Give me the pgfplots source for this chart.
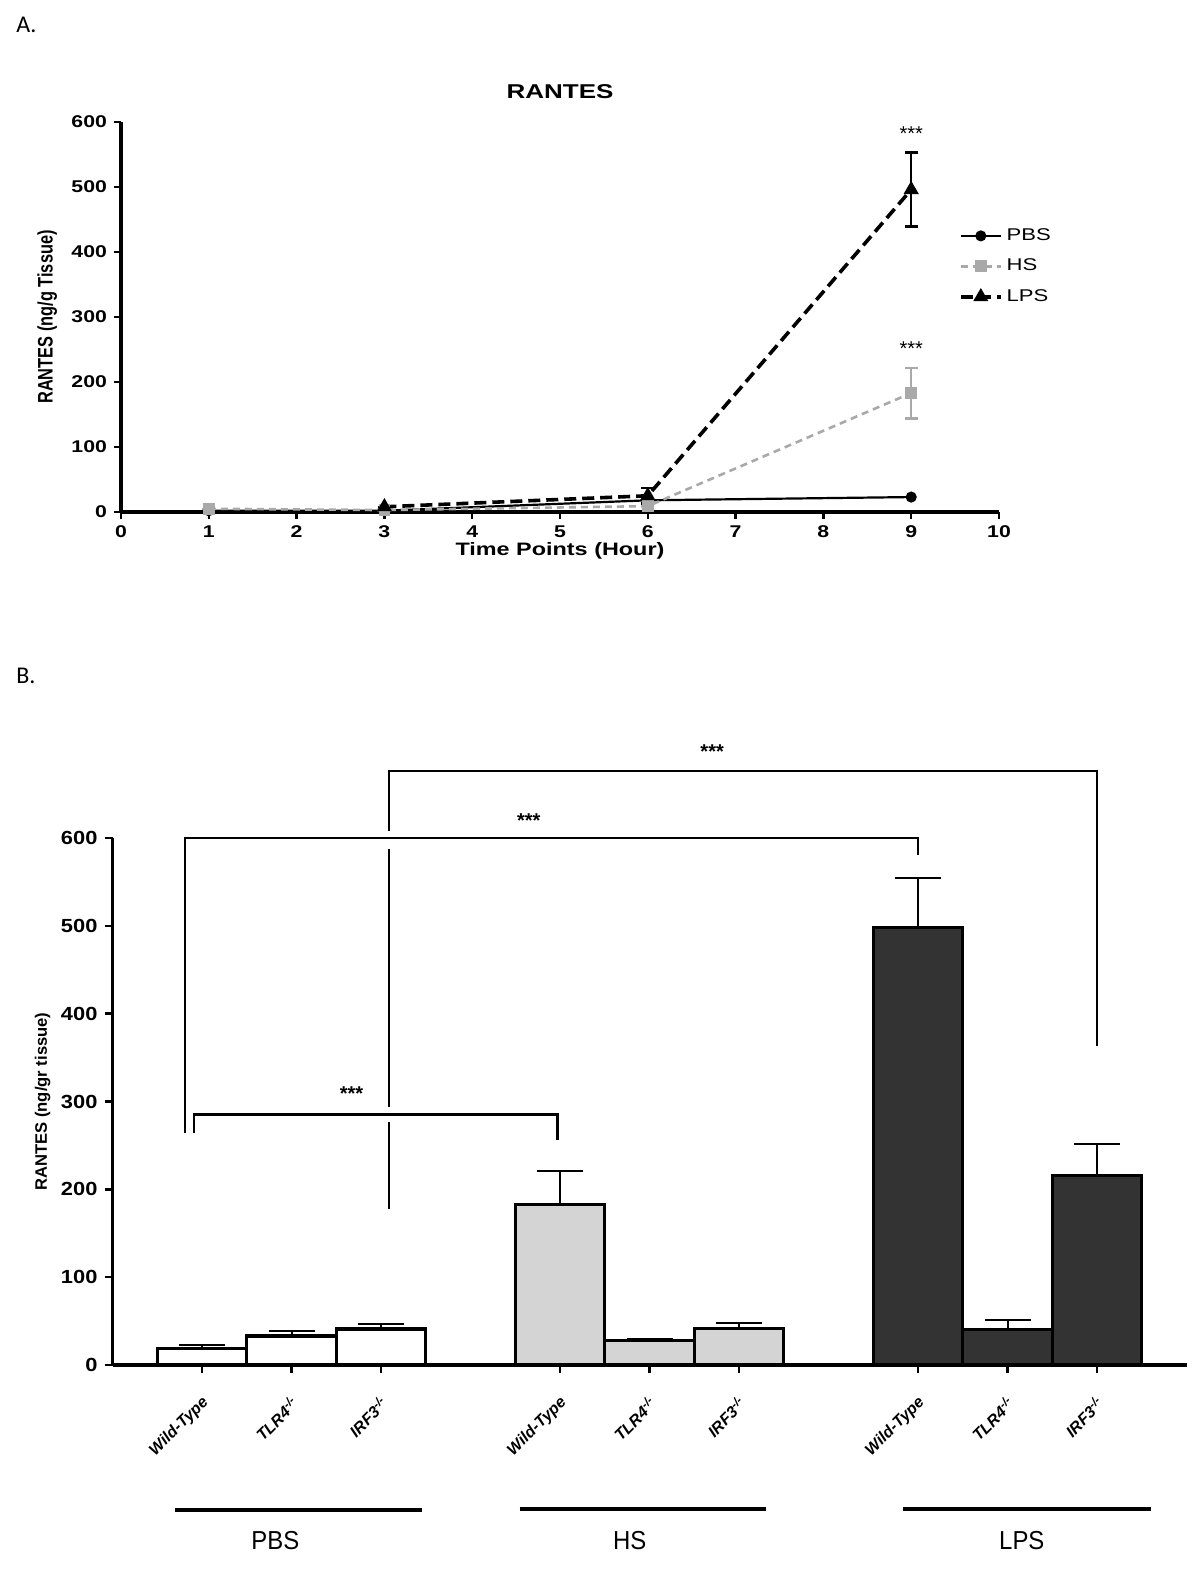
\documentclass[border=0pt]{standalone}
\usepackage{pgfplots}
\pgfplotsset{compat=1.18}
\usepackage{fontspec}
\setmainfont{Liberation Sans}
\newfontfamily\carlito{Carlito}
\definecolor{hsgray}{HTML}{A9A9A9}
\definecolor{barlight}{HTML}{D4D4D4}
\definecolor{bardark}{HTML}{333333}
\begin{document}
\begin{tikzpicture}[x=1pt,y=1pt]
\path[use as bounding box] (0,0) rectangle (600,-784.5);
\node[anchor=west,font=\carlito\fontsize{12}{14}\selectfont,inner sep=0pt] at (8,-12.5) {A.};
\node[anchor=west,font=\carlito\fontsize{12}{14}\selectfont,inner sep=0pt] at (8,-338) {B.};

% ---------------- Panel A ----------------
\begin{axis}[
  at={(60.5pt,-256pt)}, anchor=south west,
  scale only axis, width=439pt, height=195pt,
  xmin=0, xmax=10, ymin=0, ymax=600,
  axis lines=left, axis line style={line width=1.6pt,-},
  xtick={0,...,10}, ytick={0,100,...,600},
  tick style={line width=1.2pt,black},
  tick align=outside, major tick length=3.5pt,
  tick label style={font=\fontsize{8.5}{10}\selectfont\bfseries},
  xticklabel={\scalebox{1.25}[1]{\pgfmathprintnumber{\tick}}},
  yticklabel={\scalebox{1.25}[1]{\pgfmathprintnumber{\tick}}},
  /pgf/number format/assume math mode=true,
  clip=false,
  xlabel={\scalebox{1.3}[1]{Time Points (Hour)}},
  ylabel={\scalebox{0.78}[1]{RANTES (ng/g Tissue)}},
  xlabel style={font=\fontsize{9}{11}\selectfont\bfseries, at={(axis description cs:0.5,-0.1)}, anchor=center},
  ylabel style={font=\fontsize{10.5}{12}\selectfont\bfseries, at={(axis description cs:-0.084,0.5)}, anchor=center, rotate=0},
  legend style={at={(axis cs:9.54,443)}, anchor=north west, draw=none, fill=none,
    font=\fontsize{8.5}{10}\selectfont, row sep=3.8pt, inner sep=0pt,
    cells={anchor=west}},
  legend image code/.code={\draw[mark repeat=2,mark phase=2,#1] plot coordinates {(0pt,0pt) (10pt,0pt) (20pt,0pt)};},
]
\addplot[black, line width=1.1pt, mark=*, mark size=2.2pt]
  coordinates {(1,2) (3,2) (6,18) (9,23)};
\addlegendentry{\scalebox{1.3}[1]{PBS}}
\addplot[hsgray, line width=1.3pt, dash pattern=on 3.5pt off 2.5pt, mark=square*, mark size=2.3pt, mark options={solid},
  error bars/.cd, y dir=both, y explicit,
  error bar style={line width=1.2pt, solid},
  error mark options={rotate=90, line width=1.2pt, mark size=3.2pt, solid}]
  coordinates {(1,5) +- (0,0) (3,3) +- (0,0) (6,9) +- (0,0) (9,183) +- (0,39)};
\addlegendentry{\scalebox{1.3}[1]{HS}}
\addplot[black, line width=1.8pt, dash pattern=on 6pt off 3pt, mark=triangle*, mark size=2.6pt, mark options={solid},
  error bars/.cd, y dir=both, y explicit,
  error bar style={line width=1.2pt, solid},
  error mark options={rotate=90, line width=1.2pt, mark size=3.2pt, solid}]
  coordinates {(3,8) +- (0,0) (6,25) +- (0,12) (9,496) +- (0,57)};
\addlegendentry{\scalebox{1.3}[1]{LPS}}
\node[font=\fontsize{10}{11}\selectfont] at (axis cs:9,582) {***};
\node[font=\fontsize{10}{11}\selectfont] at (axis cs:9,252) {***};
\node[font=\fontsize{10}{12}\selectfont\bfseries] at (axis cs:5,646) {\scalebox{1.3}[1]{RANTES}};
\end{axis}

% ---------------- Panel B ----------------
\begin{axis}[
  at={(56.25pt,-682.5pt)}, anchor=south west,
  scale only axis, width=537pt, height=263.5pt,
  xmin=-1, xmax=11, ymin=0, ymax=600,
  axis lines=left, axis line style={line width=1.6pt,-},
  xtick={0,1,2,4,5,6,8,9,10},
  xticklabels={Wild-Type,TLR4\textsuperscript{-/-},IRF3\textsuperscript{-/-},Wild-Type,TLR4\textsuperscript{-/-},IRF3\textsuperscript{-/-},Wild-Type,TLR4\textsuperscript{-/-},IRF3\textsuperscript{-/-}},
  ytick={0,100,...,600},
  yticklabel={\scalebox{1.15}[1]{\pgfmathprintnumber{\tick}}},
  tick style={line width=1.2pt,black},
  tick align=outside, major tick length=4pt,
  yticklabel style={font=\fontsize{9.5}{10}\selectfont\bfseries},
  xticklabel style={font=\fontsize{8}{9}\selectfont\bfseries\itshape, rotate=45, anchor=north east, xshift=-7pt, yshift=-6pt, inner sep=1pt},
  /pgf/number format/assume math mode=true,
  clip=false,
  ylabel={RANTES (ng/gr tissue)},
  ylabel style={font=\fontsize{8.3}{9}\selectfont\bfseries, at={(axis description cs:-0.065,0.5)}, anchor=center, rotate=0},
]
\addplot[ybar, bar width=1, bar shift=0pt, draw=black, line width=1.6pt, fill=white,
  error bars/.cd, y dir=plus, y explicit,
  error bar style={line width=1pt, black},
  error mark options={rotate=90, line width=1pt, mark size=11.5pt, black}]
  coordinates {(0,19) +- (0,4) (1,33) +- (0,6) (2,41) +- (0,6)};
\addplot[ybar, bar width=1, bar shift=0pt, draw=black, line width=1.6pt, fill=barlight,
  error bars/.cd, y dir=plus, y explicit,
  error bar style={line width=1pt, black},
  error mark options={rotate=90, line width=1pt, mark size=11.5pt, black}]
  coordinates {(4,183) +- (0,38) (5,28) +- (0,2) (6,42) +- (0,6)};
\addplot[ybar, bar width=1, bar shift=0pt, draw=black, line width=1.6pt, fill=bardark,
  error bars/.cd, y dir=plus, y explicit,
  error bar style={line width=1pt, black},
  error mark options={rotate=90, line width=1pt, mark size=11.5pt, black}]
  coordinates {(8,498) +- (0,57) (9,40) +- (0,11) (10,216) +- (0,36)};
% significance brackets
\draw[line width=1.2pt] (axis cs:10,363) -- (axis cs:10,676) -- (axis cs:2.09,676) -- (axis cs:2.09,608);
\draw[line width=1.2pt] (axis cs:2.09,588) -- (axis cs:2.09,294);
\draw[line width=1.2pt] (axis cs:2.09,277) -- (axis cs:2.09,178);
\node[font=\fontsize{10}{12}\selectfont\bfseries] at (axis cs:5.7,698) {***};
\draw[line width=1.2pt] (axis cs:-0.19,264) -- (axis cs:-0.19,600) -- (axis cs:8,600) -- (axis cs:8,581);
\node[font=\fontsize{10}{12}\selectfont\bfseries] at (axis cs:3.65,620) {***};
\draw[line width=1.2pt] (axis cs:-0.09,264) -- (axis cs:-0.09,285) -- (axis cs:3.97,285) -- (axis cs:3.97,256);
\node[font=\fontsize{10}{12}\selectfont\bfseries] at (axis cs:1.67,309) {***};
% group lines and labels
\draw[line width=2pt] (axis cs:-0.3,-165) -- (axis cs:2.46,-165);
\draw[line width=2pt] (axis cs:3.55,-164) -- (axis cs:6.3,-164);
\draw[line width=2pt] (axis cs:7.83,-164) -- (axis cs:10.6,-164);
\node[font=\fontsize{13}{15}\selectfont] at (axis cs:0.82,-200) {\scalebox{0.92}[1]{PBS}};
\node[font=\fontsize{13}{15}\selectfont] at (axis cs:4.78,-200) {\scalebox{0.92}[1]{HS}};
\node[font=\fontsize{13}{15}\selectfont] at (axis cs:9.16,-200) {\scalebox{0.92}[1]{LPS}};
\end{axis}
\end{tikzpicture}
\end{document}
